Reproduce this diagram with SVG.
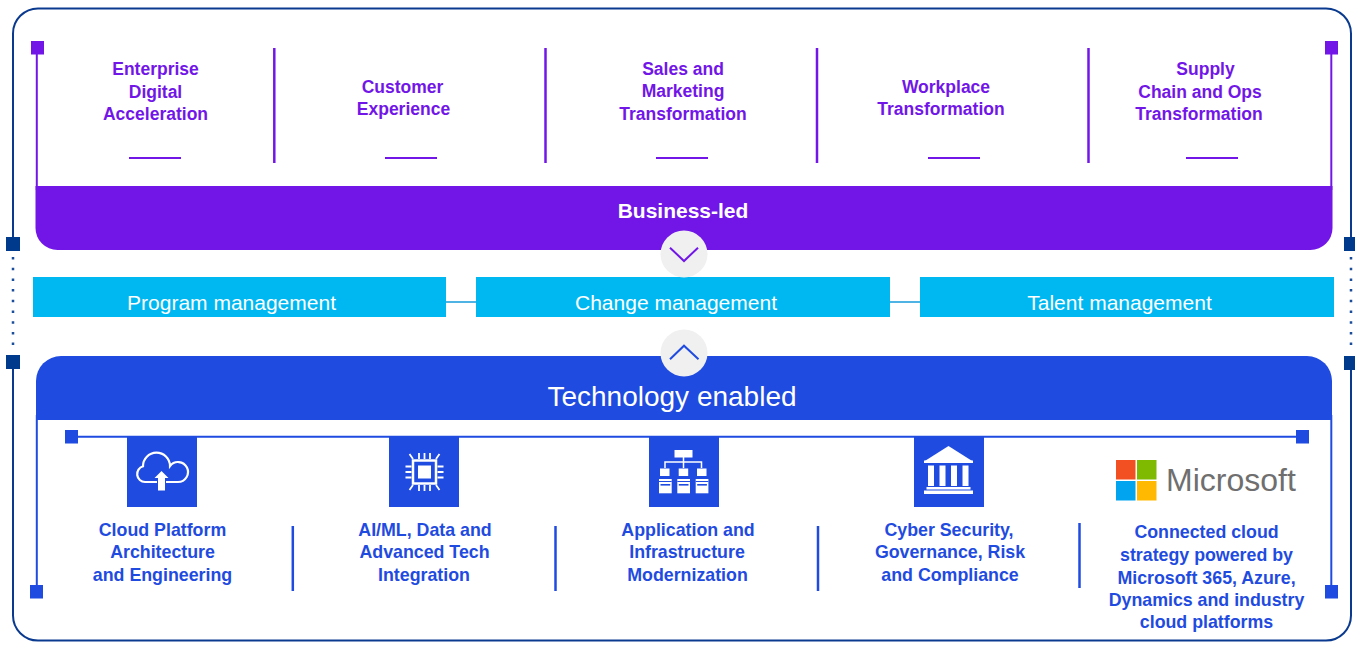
<svg xmlns="http://www.w3.org/2000/svg" width="1355" height="662" viewBox="0 0 1355 662">
<style>
.pt{font-family:"Liberation Sans",Arial,sans-serif;font-weight:bold;font-size:17.5px;fill:#7216E8;text-anchor:middle}
.bt{font-family:"Liberation Sans",Arial,sans-serif;font-weight:bold;font-size:17.8px;fill:#1F4BE0;text-anchor:middle}
.wt{font-family:"Liberation Sans",Arial,sans-serif;font-size:21px;fill:#FFFFFF;text-anchor:middle}
.frame{fill:none;stroke:#0A3A8F;stroke-width:2}
.psep{stroke:#7216E8;stroke-width:2.5}
.pul{stroke:#7216E8;stroke-width:2}
.bsep{stroke:#1F4BE0;stroke-width:2.5}
.bar{fill:#00B8F1}
.ico{fill:#1F4BE0}
.w{fill:#FFFFFF}
</style>
<rect width="1355" height="662" fill="#FFFFFF"/>

<g id="outer-frame">
<path class="frame" d="M13,244 V33.5 A25,25 0 0 1 38,8.5 H1326 A25,25 0 0 1 1351,33.5 V244"/>
<path class="frame" d="M13,362 V615.5 A25,25 0 0 0 38,640.5 H1326 A25,25 0 0 0 1351,615.5 V362"/>
<line x1="13" y1="257" x2="13" y2="350" stroke="#1A4E9A" stroke-width="2.5" stroke-dasharray="2.5 8.2"/>
<line x1="1351" y1="257" x2="1351" y2="350" stroke="#1A4E9A" stroke-width="2.5" stroke-dasharray="2.5 8.2"/>
<rect x="6" y="237" width="14" height="14" fill="#003A8C"/>
<rect x="6" y="355" width="14" height="14" fill="#003A8C"/>
<rect x="1344" y="237" width="14" height="14" fill="#003A8C"/>
<rect x="1344" y="356" width="14" height="14" fill="#003A8C"/>
</g>

<g id="business-led">
<line x1="36.8" y1="48" x2="36.8" y2="190" class="pul"/>
<line x1="1331.3" y1="48" x2="1331.3" y2="190" class="pul"/>
<rect x="31" y="41" width="13" height="13.5" fill="#7216E8"/>
<rect x="1325" y="41" width="13" height="13.5" fill="#7216E8"/>
<path d="M35.5,186 H1332.5 V228 A22,22 0 0 1 1310.5,250 H57.5 A22,22 0 0 1 35.5,228 Z" fill="#7216E8"/>
<text x="683" y="217.5" font-family="'Liberation Sans',Arial,sans-serif" font-weight="bold" font-size="21px" fill="#FFFFFF" text-anchor="middle">Business-led</text>
</g>

<g id="top-separators">
<line class="psep" x1="274.3" y1="48" x2="274.3" y2="163"/>
<line class="psep" x1="545.5" y1="48" x2="545.5" y2="163"/>
<line class="psep" x1="817" y1="48" x2="817" y2="163"/>
<line class="psep" x1="1088.5" y1="48" x2="1088.5" y2="163"/>
</g>

<g id="col-enterprise">
<text class="pt" x="155.5" y="75">Enterprise</text>
<text class="pt" x="155.5" y="97.5">Digital</text>
<text class="pt" x="155.5" y="120">Acceleration</text>
<line class="pul" x1="129" y1="158" x2="181" y2="158"/>
</g>
<g id="col-customer">
<text class="pt" x="402.5" y="93">Customer</text>
<text class="pt" x="403.5" y="115">Experience</text>
<line class="pul" x1="385" y1="158" x2="437" y2="158"/>
</g>
<g id="col-sales">
<text class="pt" x="683" y="74.5">Sales and</text>
<text class="pt" x="683" y="97">Marketing</text>
<text class="pt" x="683" y="119.5">Transformation</text>
<line class="pul" x1="656" y1="158" x2="708" y2="158"/>
</g>
<g id="col-workplace">
<text class="pt" x="946" y="93">Workplace</text>
<text class="pt" x="941" y="115">Transformation</text>
<line class="pul" x1="928" y1="158" x2="980" y2="158"/>
</g>
<g id="col-supply">
<text class="pt" x="1205.5" y="75">Supply</text>
<text class="pt" x="1200" y="97.5">Chain and Ops</text>
<text class="pt" x="1199" y="120">Transformation</text>
<line class="pul" x1="1186" y1="158" x2="1238" y2="158"/>
</g>

<g id="connectors">
<line x1="446" y1="302" x2="476" y2="302" stroke="#4FB3E4" stroke-width="2"/>
<line x1="890" y1="302" x2="920" y2="302" stroke="#4FB3E4" stroke-width="2"/>
</g>

<g id="program-management">
<rect class="bar" x="33" y="277" width="413" height="40"/>
<text class="wt" x="231.5" y="310">Program management</text>
</g>
<g id="change-management">
<rect class="bar" x="476" y="277" width="414" height="40"/>
<text class="wt" x="676" y="310">Change management</text>
</g>
<g id="talent-management">
<rect class="bar" x="920" y="277" width="414" height="40"/>
<text class="wt" x="1119.5" y="310">Talent management</text>
</g>

<g id="chevron-down">
<circle cx="684" cy="254" r="23.5" fill="#F0F0F0"/>
<polyline points="670,247.7 684,261 698,247.7" fill="none" stroke="#7216E8" stroke-width="2"/>
</g>

<g id="technology-enabled">
<line x1="36.8" y1="415" x2="36.8" y2="592" stroke="#1F4BE0" stroke-width="2"/>
<line x1="1331.3" y1="415" x2="1331.3" y2="592" stroke="#1F4BE0" stroke-width="2"/>
<rect x="30" y="585" width="13" height="13.5" fill="#1F4BE0"/>
<rect x="1325" y="585" width="13" height="13.5" fill="#1F4BE0"/>
<path d="M36,420 V381 A25,25 0 0 1 61,356 H1307 A25,25 0 0 1 1332,381 V420 Z" fill="#1F4BE0"/>
<text x="672" y="406" font-family="'Liberation Sans',Arial,sans-serif" font-size="28px" fill="#FFFFFF" text-anchor="middle">Technology enabled</text>
<line x1="71" y1="436.8" x2="1302" y2="436.8" stroke="#1F4BE0" stroke-width="2"/>
<rect x="65" y="430" width="13" height="13.5" fill="#1F4BE0"/>
<rect x="1296" y="430" width="13" height="13.5" fill="#1F4BE0"/>
</g>

<g id="chevron-up">
<circle cx="684" cy="353" r="23.5" fill="#F0F0F0"/>
<polyline points="670,359.3 684,345.7 698.5,359.3" fill="none" stroke="#1F4BE0" stroke-width="2"/>
</g>

<g id="bottom-separators">
<line class="bsep" x1="292.8" y1="526" x2="292.8" y2="591"/>
<line class="bsep" x1="555.5" y1="526" x2="555.5" y2="591"/>
<line class="bsep" x1="818" y1="526" x2="818" y2="591"/>
<line class="bsep" x1="1079.5" y1="523" x2="1079.5" y2="588"/>
</g>

<g id="cloud-platform">
<rect class="ico" x="127" y="437" width="70" height="70"/>
<path d="M145,482 A8,8 0 0 1 143,466.3 A13.5,13.5 0 0 1 170,466 A10,10 0 1 1 178,482 Z" fill="none" stroke="#FFFFFF" stroke-width="2.2"/>
<polygon points="161.5,469 171,478.5 166,478.5 166,491.5 157,491.5 157,478.5 152,478.5" fill="#1F4BE0"/>
<polygon points="161.5,471 168.5,478 165,478 165,490.5 158,490.5 158,478 154.5,478" class="w"/>
<text class="bt" x="162.5" y="535.5">Cloud Platform</text>
<text class="bt" x="162.5" y="558">Architecture</text>
<text class="bt" x="162.5" y="580.5">and Engineering</text>
</g>

<g id="ai-ml">
<rect class="ico" x="389" y="437" width="70" height="70"/>
<rect x="413" y="460.5" width="23" height="23" fill="none" stroke="#FFFFFF" stroke-width="2.5"/>
<rect class="w" x="418" y="465.5" width="13" height="13"/>
<g stroke="#FFFFFF" stroke-width="1.8" fill="none">
<path d="M419,453 V459 M424.5,453 V459 M430,453 V459 M419,485 V491 M424.5,485 V491 M430,485 V491"/>
<path d="M405.5,466.5 H411.5 M405.5,472 H411.5 M405.5,477.5 H411.5 M437.5,466.5 H443.5 M437.5,472 H443.5 M437.5,477.5 H443.5"/>
<path d="M413,459 L409.5,454 M436,459 L439.5,454 M413,485 L409.5,490 M436,485 L439.5,490"/>
</g>
<text class="bt" x="425" y="535.5">AI/ML, Data and</text>
<text class="bt" x="424.5" y="558">Advanced Tech</text>
<text class="bt" x="424" y="580.5">Integration</text>
</g>

<g id="application-modernization">
<rect class="ico" x="649" y="437" width="70" height="70"/>
<rect class="w" x="674.5" y="450" width="18" height="7.5"/>
<path d="M683.5,457 V462 M665,468 V462 H701.5 V468 M683.5,462 V468" fill="none" stroke="#FFFFFF" stroke-width="1.5"/>
<rect class="w" x="660" y="468.5" width="9.5" height="7.5"/>
<rect class="w" x="678.7" y="468.5" width="9.5" height="7.5"/>
<rect class="w" x="697" y="468.5" width="9.5" height="7.5"/>
<rect class="w" x="659" y="479" width="12.7" height="14.3"/>
<rect class="w" x="677.3" y="479" width="12.7" height="14.3"/>
<rect class="w" x="695.7" y="479" width="12.7" height="14.3"/>
<g fill="#1F4BE0">
<rect x="659" y="481" width="12.7" height="1"/>
<rect x="677.3" y="481" width="12.7" height="1"/>
<rect x="695.7" y="481" width="12.7" height="1"/>
<rect x="660.5" y="484" width="9.7" height="1.6"/>
<rect x="678.8" y="484" width="9.7" height="1.6"/>
<rect x="697.2" y="484" width="9.7" height="1.6"/>
</g>
<text class="bt" x="688" y="535.5">Application and</text>
<text class="bt" x="687" y="558">Infrastructure</text>
<text class="bt" x="687.5" y="580.5">Modernization</text>
</g>

<g id="cyber-security">
<rect class="ico" x="914" y="437" width="70" height="70"/>
<polygon class="w" points="924,461.5 948.5,446 973,461.5"/>
<rect class="w" x="924" y="460.5" width="49" height="2.5"/>
<rect class="w" x="928" y="465.5" width="6" height="20.5"/>
<rect class="w" x="939.5" y="465.5" width="6" height="20.5"/>
<rect class="w" x="951" y="465.5" width="6" height="20.5"/>
<rect class="w" x="962.5" y="465.5" width="6" height="20.5"/>
<rect class="w" x="926.5" y="487" width="44" height="2.5"/>
<rect class="w" x="924" y="490.5" width="49" height="3.5"/>
<text class="bt" x="949" y="535.5">Cyber Security,</text>
<text class="bt" x="950" y="558">Governance, Risk</text>
<text class="bt" x="950" y="580.5">and Compliance</text>
</g>

<g id="microsoft">
<rect x="1116" y="460" width="19.5" height="19.5" fill="#F25022"/>
<rect x="1137" y="460" width="19.5" height="19.5" fill="#7FBA00"/>
<rect x="1116" y="481" width="19.5" height="19.5" fill="#00A4EF"/>
<rect x="1137" y="481" width="19.5" height="19.5" fill="#FFB900"/>
<text x="1166" y="491" font-family="'Liberation Sans',Arial,sans-serif" font-size="32px" fill="#6F6F6F">Microsoft</text>
<text class="bt" x="1206.5" y="538.3">Connected cloud</text>
<text class="bt" x="1206.5" y="561">strategy powered by</text>
<text class="bt" x="1206.5" y="583.7">Microsoft 365, Azure,</text>
<text class="bt" x="1206.5" y="606">Dynamics and industry</text>
<text class="bt" x="1206.5" y="627.5">cloud platforms</text>
</g>
</svg>
